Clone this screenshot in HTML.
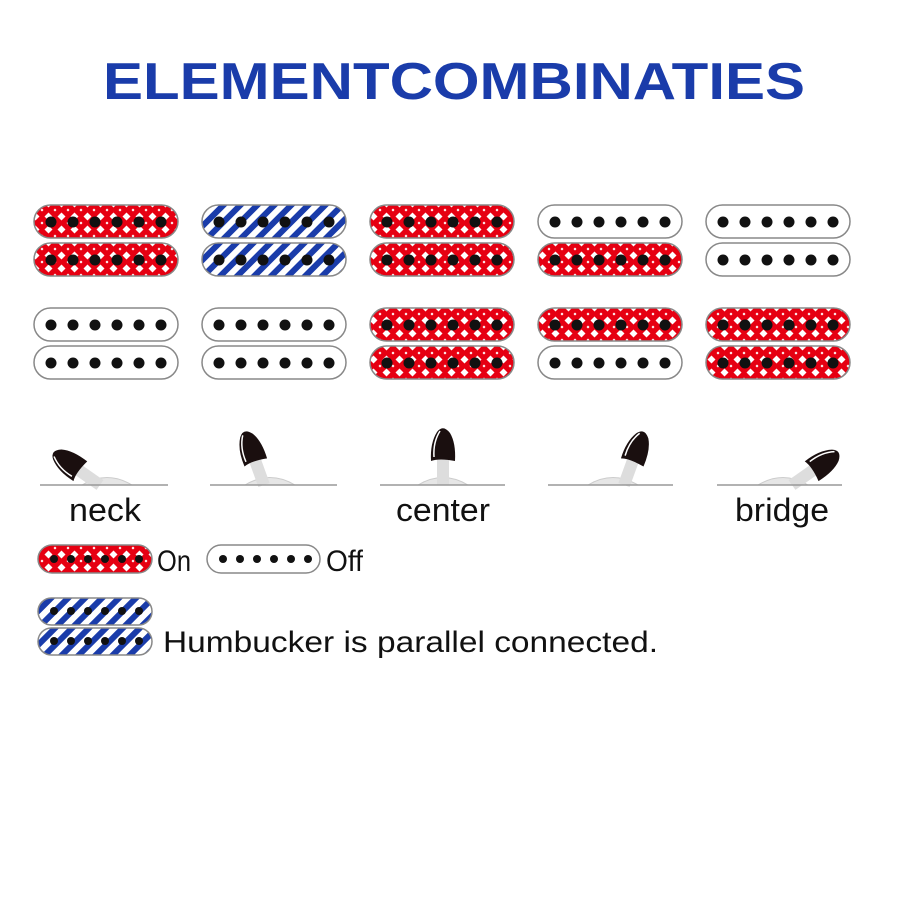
<!DOCTYPE html>
<html><head><meta charset="utf-8"><style>html,body{margin:0;padding:0;background:#fff}</style></head>
<body>
<svg width="900" height="900" viewBox="0 0 900 900" xmlns="http://www.w3.org/2000/svg">
<defs>
<pattern id="red" width="13" height="13" patternUnits="userSpaceOnUse" patternTransform="translate(3,2)">
<rect width="13" height="13" fill="#e60012"/>
<path d="M6.5 2.5 L10.5 6.5 L6.5 10.5 L2.5 6.5Z" fill="#fff"/>
<path d="M0 -1.5 L1.5 0 L0 1.5 L-1.5 0Z M13 -1.5 L14.5 0 L13 1.5 L11.5 0Z M0 11.5 L1.5 13 L0 14.5 L-1.5 13Z M13 11.5 L14.5 13 L13 14.5 L11.5 13Z" fill="#fff"/>
</pattern>
<pattern id="blue" width="12" height="12" patternUnits="userSpaceOnUse" patternTransform="rotate(45)">
<rect width="12" height="12" fill="#fff"/>
<rect width="6" height="12" fill="#1a3caa"/>
</pattern>
<g id="dots">
<circle cx="0" cy="0" r="5.5" fill="#111"/><circle cx="22" cy="0" r="5.5" fill="#111"/><circle cx="44" cy="0" r="5.5" fill="#111"/><circle cx="66" cy="0" r="5.5" fill="#111"/><circle cx="88" cy="0" r="5.5" fill="#111"/><circle cx="110" cy="0" r="5.5" fill="#111"/>
</g>
<g id="sw">
<path d="M-6 0 L-6 -30 L6 -30 L6 0Z" fill="#ddd"/>
<path d="M-12 -24 Q-4 -27 12 -24 Q13 -42 7 -52 Q0 -61 -6 -53 Q-13 -42 -12 -24Z" fill="#1a0f0f"/>
<path d="M-9 -28 Q-10 -43 -3 -54" stroke="#fff" stroke-width="1.5" fill="none"/>
</g>
</defs>

<text x="103" y="99" font-family="Liberation Sans, sans-serif" font-weight="bold" font-size="52" fill="#1a3caa" textLength="702" lengthAdjust="spacingAndGlyphs">ELEMENTCOMBINATIES</text>

<g stroke="#888" stroke-width="1.5">
<rect x="34" y="205" width="144" height="33" rx="16.5" fill="url(#red)"/>
<rect x="34" y="243" width="144" height="33" rx="16.5" fill="url(#red)"/>
<rect x="202" y="205" width="144" height="33" rx="16.5" fill="url(#blue)"/>
<rect x="202" y="243" width="144" height="33" rx="16.5" fill="url(#blue)"/>
<rect x="370" y="205" width="144" height="33" rx="16.5" fill="url(#red)"/>
<rect x="370" y="243" width="144" height="33" rx="16.5" fill="url(#red)"/>
<rect x="538" y="205" width="144" height="33" rx="16.5" fill="#fff"/>
<rect x="538" y="243" width="144" height="33" rx="16.5" fill="url(#red)"/>
<rect x="706" y="205" width="144" height="33" rx="16.5" fill="#fff"/>
<rect x="706" y="243" width="144" height="33" rx="16.5" fill="#fff"/>
<rect x="34" y="308" width="144" height="33" rx="16.5" fill="#fff"/>
<rect x="34" y="346" width="144" height="33" rx="16.5" fill="#fff"/>
<rect x="202" y="308" width="144" height="33" rx="16.5" fill="#fff"/>
<rect x="202" y="346" width="144" height="33" rx="16.5" fill="#fff"/>
<rect x="370" y="308" width="144" height="33" rx="16.5" fill="url(#red)"/>
<rect x="370" y="346" width="144" height="33" rx="16.5" fill="url(#red)"/>
<rect x="538" y="308" width="144" height="33" rx="16.5" fill="url(#red)"/>
<rect x="538" y="346" width="144" height="33" rx="16.5" fill="#fff"/>
<rect x="706" y="308" width="144" height="33" rx="16.5" fill="url(#red)"/>
<rect x="706" y="346" width="144" height="33" rx="16.5" fill="url(#red)"/>
</g>
<use href="#dots" x="51" y="222"/><use href="#dots" x="51" y="260"/>
<use href="#dots" x="219" y="222"/><use href="#dots" x="219" y="260"/>
<use href="#dots" x="387" y="222"/><use href="#dots" x="387" y="260"/>
<use href="#dots" x="555" y="222"/><use href="#dots" x="555" y="260"/>
<use href="#dots" x="723" y="222"/><use href="#dots" x="723" y="260"/>
<use href="#dots" x="51" y="325"/><use href="#dots" x="51" y="363"/>
<use href="#dots" x="219" y="325"/><use href="#dots" x="219" y="363"/>
<use href="#dots" x="387" y="325"/><use href="#dots" x="387" y="363"/>
<use href="#dots" x="555" y="325"/><use href="#dots" x="555" y="363"/>
<use href="#dots" x="723" y="325"/><use href="#dots" x="723" y="363"/>

<g fill="#e6e6e6" stroke="#ccc" stroke-width="1">
<path d="M82 485 Q107 470 132 485Z"/>
<path d="M245 485 Q270 470 295 485Z"/>
<path d="M418 485 Q443 470 468 485Z"/>
<path d="M588 485 Q613 470 638 485Z"/>
<path d="M758 485 Q783 470 808 485Z"/>
</g>
<use href="#sw" transform="translate(100,485) rotate(-55)"/>
<use href="#sw" transform="translate(264,485) rotate(-20)"/>
<use href="#sw" transform="translate(443,485)"/>
<use href="#sw" transform="translate(624,485) rotate(20)"/>
<use href="#sw" transform="translate(792,485) rotate(55)"/>
<g stroke="#999" stroke-width="1.5">
<line x1="40" y1="485" x2="168" y2="485"/>
<line x1="210" y1="485" x2="337" y2="485"/>
<line x1="380" y1="485" x2="505" y2="485"/>
<line x1="548" y1="485" x2="673" y2="485"/>
<line x1="717" y1="485" x2="842" y2="485"/>
</g>
<g font-family="Liberation Sans Narrow, Liberation Sans, sans-serif" font-size="32" fill="#111">
<text x="69" y="521" textLength="72" lengthAdjust="spacingAndGlyphs">neck</text>
<text x="396" y="521" textLength="94" lengthAdjust="spacingAndGlyphs">center</text>
<text x="735" y="521" textLength="94" lengthAdjust="spacingAndGlyphs">bridge</text>
</g>

<g stroke="#888" stroke-width="1.5">
<rect x="38" y="545" width="114" height="28" rx="14" fill="url(#red)"/>
<rect x="207" y="545" width="113" height="28" rx="14" fill="#fff"/>
<rect x="38" y="598" width="114" height="27" rx="13.5" fill="url(#blue)"/>
<rect x="38" y="628" width="114" height="27" rx="13.5" fill="url(#blue)"/>
</g>
<g fill="#111">
<circle cx="54" cy="559" r="4"/><circle cx="71" cy="559" r="4"/><circle cx="88" cy="559" r="4"/><circle cx="105" cy="559" r="4"/><circle cx="122" cy="559" r="4"/><circle cx="139" cy="559" r="4"/>
<circle cx="223" cy="559" r="4"/><circle cx="240" cy="559" r="4"/><circle cx="257" cy="559" r="4"/><circle cx="274" cy="559" r="4"/><circle cx="291" cy="559" r="4"/><circle cx="308" cy="559" r="4"/>
<circle cx="54" cy="611" r="4"/><circle cx="71" cy="611" r="4"/><circle cx="88" cy="611" r="4"/><circle cx="105" cy="611" r="4"/><circle cx="122" cy="611" r="4"/><circle cx="139" cy="611" r="4"/>
<circle cx="54" cy="641" r="4"/><circle cx="71" cy="641" r="4"/><circle cx="88" cy="641" r="4"/><circle cx="105" cy="641" r="4"/><circle cx="122" cy="641" r="4"/><circle cx="139" cy="641" r="4"/>
</g>
<g font-family="Liberation Sans Narrow, Liberation Sans, sans-serif" font-size="30" fill="#111">
<text x="157" y="571" textLength="34" lengthAdjust="spacingAndGlyphs">On</text>
<text x="326" y="571" textLength="37" lengthAdjust="spacingAndGlyphs">Off</text>
<text x="163" y="652" textLength="495" lengthAdjust="spacingAndGlyphs">Humbucker is parallel connected.</text>
</g>
</svg>
</body></html>
